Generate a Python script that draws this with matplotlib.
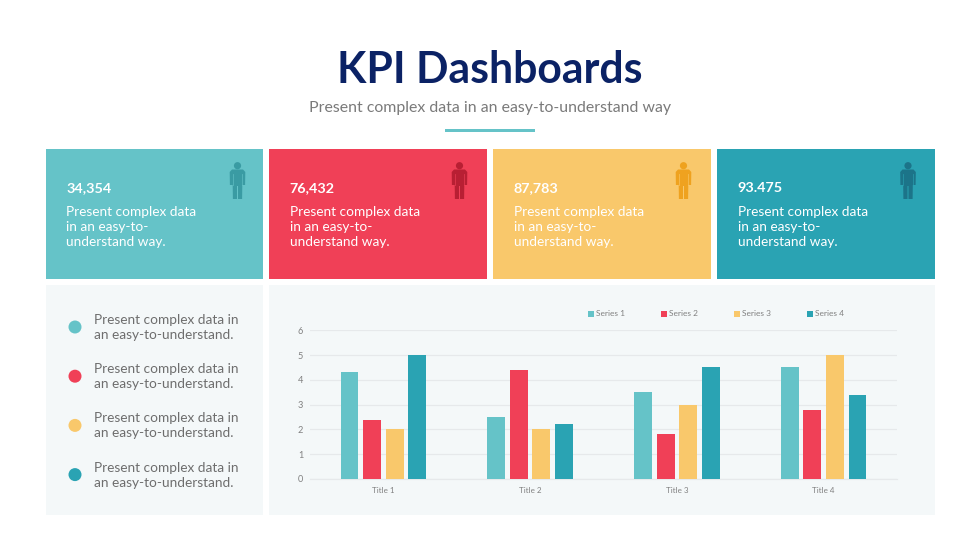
import matplotlib
matplotlib.use("Agg")
import matplotlib.pyplot as plt
from matplotlib.patches import Rectangle, Circle, Polygon
import numpy as np

plt.rcParams['font.family'] = ['Lato', 'DejaVu Sans']

# Chart data
categories = ["Title 1", "Title 2", "Title 3", "Title 4"]
series_names = ["Series 1", "Series 2", "Series 3", "Series 4"]
series_1 = [4.3, 2.5, 3.5, 4.5]
series_2 = [2.4, 4.4, 1.8, 2.8]
series_3 = [2.0, 2.0, 3.0, 5.0]
series_4 = [5.0, 2.2, 4.5, 3.4]
y_ticks = [0, 1, 2, 3, 4, 5, 6]

# Card numbers (the last one really has a dot in the picture)
card_values = ["34,354", "76,432", "87,783", "93.475"]

# Colors
colors = ["#65C3C8", "#F04057", "#F9C86B", "#2AA3B3"]
icon_colors = ["#3A9BA3", "#B81F33", "#EFA21F", "#1C7489"]
navy = "#0B2265"
panel_color = "#F4F8F9"

W, H = 980, 551
fig = plt.figure(figsize=(W / 100, H / 100), dpi=100, facecolor="white")

# Background layer in pixel coordinates
bg = fig.add_axes([0, 0, 1, 1])
bg.set_xlim(0, W)
bg.set_ylim(H, 0)
bg.axis("off")


def draw_person(ax, cx, color, gap_color):
    ax.add_patch(Circle((cx, 165.7), 3.6, color=color, lw=0))
    body = [(cx - 5.5, 169.5), (cx + 5.5, 169.5), (cx + 7.8, 172), (cx + 7.6, 185), (cx + 4.8, 185),
            (cx + 4.6, 199), (cx + 0.5, 199), (cx + 0.5, 186), (cx - 0.5, 186),
            (cx - 0.5, 199), (cx - 4.6, 199), (cx - 4.8, 185), (cx - 7.6, 185), (cx - 7.8, 172)]
    ax.add_patch(Polygon(body, closed=True, color=color, lw=0))
    # thin slits between the arms and the torso
    for dx in (-4.6, 4.6):
        ax.plot([cx + dx, cx + dx], [174, 185], color=gap_color, lw=0.6, alpha=0.7)


# Header
bg.text(490, 70, "KPI Dashboards", color=navy, fontsize=30.8, fontweight="bold",
        ha="center", va="center")
bg.text(490, 108, "Present complex data in an easy-to-understand way", color="#7A7A7A",
        fontsize=11.45, ha="center", va="center")
bg.add_patch(Rectangle((445, 128.5), 90, 3, color=colors[0], lw=0))

# KPI cards
card_left = [45.5, 269, 493, 717]
icon_x = [237.5, 459.5, 683.5, 908]
for i in range(4):
    bg.add_patch(Rectangle((card_left[i], 149), 217.5, 130, color=colors[i], lw=0))
    draw_person(bg, icon_x[i], icon_colors[i], colors[i])
    tx = card_left[i] + 20.7
    bg.text(tx, 188, card_values[i], color="white", fontsize=10.4, fontweight="bold",
            va="center")
    lines = ["Present complex data", "in an easy-to-", "understand way."]
    for j, line in enumerate(lines):
        bg.text(tx, 212 + j * 15, line, color="white", fontsize=9.8, va="center")

# Lower panels
bg.add_patch(Rectangle((45.5, 285), 217.5, 230, color=panel_color, lw=0))
bg.add_patch(Rectangle((269, 285), 666, 230, color=panel_color, lw=0))

# Left list
for i in range(4):
    y = 327 + i * 49.2
    bg.add_patch(Circle((75, y), 6.5, color=colors[i], lw=0))
    bg.text(94, y - 7, "Present complex data in", color="#6E6E6E", fontsize=9.8, va="center")
    bg.text(94, y + 8, "an easy-to-understand.", color="#6E6E6E", fontsize=9.8, va="center")

# Bar chart
ax = fig.add_axes([310 / W, 1 - 479 / H, (897 - 310) / W, (479 - 330.3) / H])
ax.patch.set_alpha(0)
x = np.arange(len(categories))
bar_w = 0.122
step = 0.154
all_series = [series_1, series_2, series_3, series_4]
for i, vals in enumerate(all_series):
    ax.bar(x + (i - 1.5) * step, vals, bar_w, color=colors[i], label=series_names[i], zorder=3)

ax.set_xlim(-0.5, 3.5)
ax.set_ylim(0, 6)
ax.set_yticks(y_ticks)
ax.set_xticks(x)
ax.set_xticklabels(categories)
ax.grid(axis="y", color="#E6E9EB", lw=0.9, zorder=0)
ax.tick_params(length=0, labelsize=6.6, labelcolor="#808080")
ax.tick_params(axis="x", pad=5.5, labelsize=5.8)
ax.tick_params(axis="y", pad=5)
for s in ["top", "right", "left"]:
    ax.spines[s].set_visible(False)
ax.spines["bottom"].set_color("#E6E9EB")
ax.spines["bottom"].set_linewidth(0.9)

leg = ax.legend(ncol=4, loc="center", bbox_to_anchor=((716 - 310) / (897 - 310), 1 + (330.3 - 314) / (479 - 330.3)),
                frameon=False, fontsize=6.0, handlelength=0.75, handleheight=0.75,
                handletextpad=0.25, columnspacing=4.3, labelcolor="#808080", borderpad=0, borderaxespad=0)

fig.savefig("out.png", dpi=100, facecolor="white")
